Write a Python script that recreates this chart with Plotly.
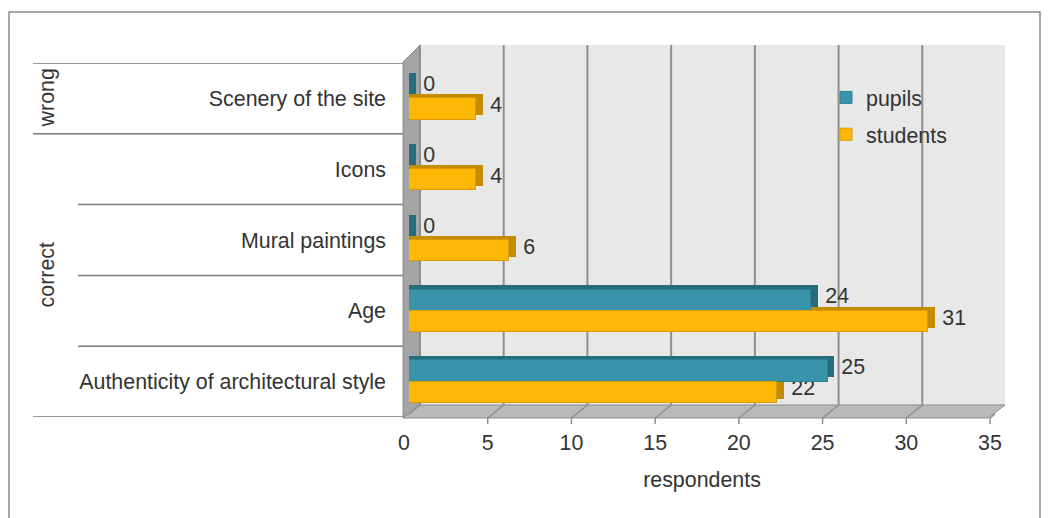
import plotly.graph_objects as go

# Survey answers: which features were judged correctly / wrongly
categories = ["Authenticity of architectural style", "Age", "Mural paintings",
              "Icons", "Scenery of the site"]
pupils = [25, 24, 0, 0, 0]
students = [22, 31, 6, 4, 4]
x_ticks = [0, 5, 10, 15, 20, 25, 30, 35]
group_labels = ["correct", "wrong"]

W, H = 1048, 518
L, R, T, B = 409, 995, 63, 417  # plot area in pixels


def px(x):
    return (x - L) / (R - L)


def py(y):
    return (B - y) / (B - T)


pos = list(range(len(categories)))
BAR_W = 0.3
DEPTH_X = 0.4
DEPTH_Y = 0.06

TEAL, TEAL_DK = "#3994ab", "#276c7e"
GOLD, GOLD_DK = "#fdb704", "#c48d00"
TXT = "#333333"
FONT = "Liberation Sans, Arial, sans-serif"
FS = 21.4

fig = go.Figure()

# depth faces (drawn behind the front faces), carrying the value labels
fig.add_trace(go.Bar(
    y=pos, x=[v + DEPTH_X for v in students], orientation="h",
    width=BAR_W, offset=-BAR_W + DEPTH_Y,
    marker=dict(color=GOLD_DK, line=dict(width=0)),
    text=[str(v) for v in students], texttemplate="\u2009%{text}",
    textposition="outside", constraintext="none",
    textfont=dict(size=FS, color=TXT, family=FONT),
    cliponaxis=False, showlegend=False, hoverinfo="skip"))
fig.add_trace(go.Bar(
    y=pos, x=[v + DEPTH_X for v in pupils], orientation="h",
    width=BAR_W, offset=DEPTH_Y,
    marker=dict(color=TEAL_DK, line=dict(width=0)),
    text=[str(v) for v in pupils], texttemplate="\u2009%{text}",
    textposition="outside", constraintext="none",
    textfont=dict(size=FS, color=TXT, family=FONT),
    cliponaxis=False, showlegend=False, hoverinfo="skip"))

# front faces
fig.add_trace(go.Bar(
    y=pos, x=pupils, orientation="h", width=BAR_W, offset=0,
    name="pupils", legendgroup="pupils",
    marker=dict(color=TEAL, line=dict(color="#2f7f92", width=1))))
fig.add_trace(go.Bar(
    y=pos, x=students, orientation="h", width=BAR_W, offset=-BAR_W,
    name="students", legendgroup="students",
    marker=dict(color=GOLD, line=dict(color="#d99c00", width=1))))

shapes = []
# outer frame
shapes.append(dict(type="rect", xref="paper", yref="paper",
                   x0=px(9), x1=px(1040), y0=py(12), y1=py(560),
                   line=dict(color="#8a8a8a", width=1.5), layer="below"))
# back wall, side wall, floor
shapes.append(dict(type="rect", xref="paper", yref="paper",
                   x0=px(420), x1=px(1005), y0=py(405), y1=py(45),
                   fillcolor="#e8e8e8", line=dict(width=0), layer="below"))
shapes.append(dict(type="path", xref="paper", yref="paper",
                   path=f"M{px(403)},{py(62)} L{px(420)},{py(45)} L{px(420)},{py(405)} L{px(403)},{py(418)} Z",
                   fillcolor="#a4a4a4", line=dict(color="#8c8c8c", width=1), layer="below"))
shapes.append(dict(type="path", xref="paper", yref="paper",
                   path=f"M{px(403)},{py(418)} L{px(988)},{py(418)} L{px(1005)},{py(405)} L{px(420)},{py(405)} Z",
                   fillcolor="#b9b9b9", line=dict(color="#8c8c8c", width=1), layer="below"))

# gridlines on the back wall, floor diagonals and front tick marks
for v in x_ticks:
    shapes.append(dict(type="line", xref="x", xsizemode="pixel", xanchor=v,
                       x0=11, x1=11, yref="paper", y0=py(405), y1=py(45),
                       line=dict(color="#8e8e8e", width=2), layer="below"))
    shapes.append(dict(type="path", xref="x", xsizemode="pixel", xanchor=v,
                       yref="paper", ysizemode="pixel", yanchor=py(418),
                       path="M-5,0 L11,13",
                       line=dict(color="#8e8e8e", width=1.5), layer="below"))
    shapes.append(dict(type="path", xref="x", xsizemode="pixel", xanchor=v,
                       yref="paper", ysizemode="pixel", yanchor=py(418),
                       path="M-5,0 L-5,-6",
                       line=dict(color="#8e8e8e", width=1.5), layer="below"))

# category table lines on the left
for b in [len(categories) - 0.5, len(categories) - 1.5, -0.5]:
    shapes.append(dict(type="line", xref="paper", yref="y",
                       x0=px(33), x1=px(403), y0=b, y1=b,
                       line=dict(color="#7a7a7a", width=1.5)))
for b in [0.5, 1.5, 2.5]:
    shapes.append(dict(type="line", xref="paper", yref="y",
                       x0=px(78), x1=px(403), y0=b, y1=b,
                       line=dict(color="#7a7a7a", width=1.5)))

annotations = [
    dict(text=group_labels[1], xref="paper", yref="y", x=px(47), y=4,
         xanchor="center", yanchor="middle",
         textangle=-90, showarrow=False, font=dict(size=FS, color=TXT, family=FONT)),
    dict(text=group_labels[0], xref="paper", yref="y", x=px(47), y=1.5,
         xanchor="center", yanchor="middle",
         textangle=-90, showarrow=False, font=dict(size=FS, color=TXT, family=FONT)),
]

fig.update_layout(
    width=W, height=H,
    margin=dict(l=L, r=W - R, t=T, b=H - B, pad=0),
    paper_bgcolor="white", plot_bgcolor="rgba(0,0,0,0)",
    barmode="overlay", bargap=0,
    font=dict(family=FONT, size=FS, color=TXT),
    shapes=shapes, annotations=annotations,
    legend=dict(x=px(826), y=py(77), xanchor="left", yanchor="top",
                traceorder="grouped", tracegroupgap=6,
                bgcolor="rgba(0,0,0,0)", font=dict(size=FS, color=TXT)),
    xaxis=dict(range=[0, 35], tickvals=x_ticks, showgrid=False, zeroline=False,
               ticks="", showline=False, ticklabelshift=-5, ticklabelstandoff=11,
               title=dict(text="respondents", standoff=17,
                          font=dict(size=FS, color=TXT))),
    yaxis=dict(range=[-0.5, len(categories) - 0.5], tickvals=pos, ticktext=categories,
               showgrid=False, zeroline=False, ticks="", showline=False,
               ticklabelstandoff=22),
)

fig.write_html("out.html")
